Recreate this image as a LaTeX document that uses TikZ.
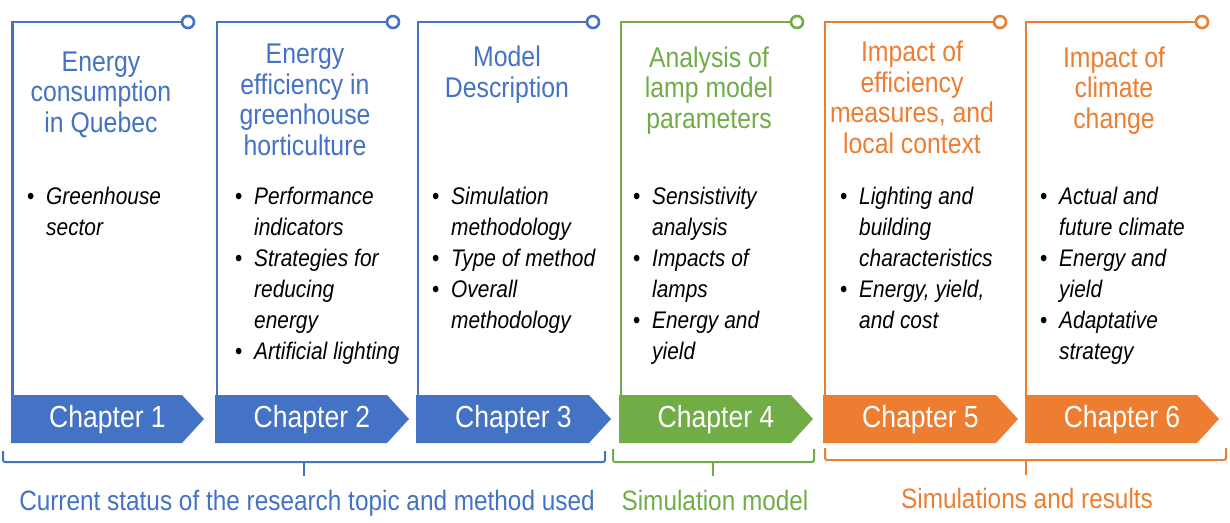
\documentclass[tikz,border=0pt]{standalone}
\usepackage{fontspec}
\setmainfont{Liberation Sans}[FakeStretch=0.87]
\definecolor{cblue}{HTML}{4472C4}
\definecolor{cgreen}{HTML}{70AD47}
\definecolor{corange}{HTML}{ED7D31}
\newcommand\bul[1]{\spaceskip=0.25em plus 0.05em\relax\noindent\hangindent=19pt\hangafter=1\makebox[19pt][l]{\upshape\textbullet}#1\par}
\tikzset{
  panelline/.style={line width=2.6pt},
  chevtext/.style={text=white, font=\fontsize{30.5}{31}\selectfont, inner sep=0pt, anchor=base},
  titletext/.style={font=\fontsize{28.5}{30.5}\selectfont, inner sep=0pt, anchor=base, align=center},
  bullettext/.style={font=\fontsize{24}{31}\selectfont\itshape, inner sep=0pt, anchor=base west, text width=190pt, align=left},
  bracket/.style={line width=2pt, rounded corners=2pt},
  grouptext/.style={font=\fontsize{28}{30}\selectfont, inner sep=0pt, anchor=base}
}
\begin{document}
\begin{tikzpicture}[x=1pt,y=-1pt]
\useasboundingbox[fill=white] (0,0) rectangle (1230,522);
% panels
\foreach \n/\lx/\cx/\col/\cl/\tp in {1/12.5/188/cblue/11/204, 2/217/393/cblue/215/409, 3/418/593/cblue/416/611, 4/621/797/cgreen/619/813, 5/825/1000/corange/823/1018, 6/1026/1202/corange/1025/1219}{
  \draw[panelline,\col] (\lx,395) -- (\lx,22) -- (\cx-6,22);
  \draw[panelline,\col,fill=white] (\cx,22) circle[radius=6];
  \fill[\col] (\cl,395) -- (\tp-22,395) -- (\tp,419) -- (\tp-22,443) -- (\cl,443) -- cycle;
  \node[chevtext] (ch\n) at ({(\cl+\tp)/2},427) {Chapter \n};
}
% titles (anchor = baseline of last line)
\node[titletext,text=cblue] (t1) at (101,132) {Energy\\consumption\\in Quebec};
\node[titletext,text=cblue] (t2) at (305,155) {Energy\\efficiency in\\greenhouse\\horticulture};
\node[titletext,text=cblue] (t3) at (507,97) {Model\\Description};
\node[titletext,text=cgreen] (t4) at (709,128) {Analysis of\\lamp model\\parameters};
\node[titletext,text=corange] (t5) at (912,153) {Impact of\\efficiency\\measures, and\\local context};
\node[titletext,text=corange] (t6) at (1114,128) {Impact of\\climate\\change};
% bullets
\node[bullettext] (b1) at (27,204) {\bul{Greenhouse\newline sector}};
\node[bullettext] (b2) at (235,204) {\bul{Performance\newline indicators}\bul{Strategies for\newline reducing\newline energy}\bul{Artificial lighting}};
\node[bullettext] (b3) at (432,204) {\bul{Simulation\newline methodology}\bul{Type of method}\bul{Overall\newline methodology}};
\node[bullettext] (b4) at (633,204) {\bul{Sensistivity\newline analysis}\bul{Impacts of\newline lamps}\bul{Energy and\newline yield}};
\node[bullettext] (b5) at (840,204) {\bul{Lighting and\newline building\newline characteristics}\bul{Energy, yield,\newline and cost}};
\node[bullettext] (b6) at (1040,204) {\bul{Actual and\newline future climate}\bul{Energy and\newline yield}\bul{Adaptative\newline strategy}};
% brackets
\coordinate (k1a) at (3,451); \coordinate (k1b) at (605,451); \coordinate (k1c) at (304,476);
\coordinate (k2a) at (613,449); \coordinate (k2b) at (814,449); \coordinate (k2c) at (713,476);
\coordinate (k3a) at (825,448); \coordinate (k3b) at (1226,448); \coordinate (k3c) at (1026,475);
\draw[bracket,cblue] (k1a) -- (3,462) -- (605,462) -- (k1b);
\draw[line width=2pt,cblue] (304,462) -- (k1c);
\draw[bracket,cgreen] (k2a) -- (613,462) -- (814,462) -- (k2b);
\draw[line width=2pt,cgreen] (713,462) -- (k2c);
\draw[bracket,corange] (k3a) -- (825,460) -- (1226,460) -- (k3b);
\draw[line width=2pt,corange] (1026,460) -- (k3c);
% group labels
\node[grouptext,text=cblue] (g1) at (307,510) {Current status of the research topic and method used};
\node[grouptext,text=cgreen] (g2) at (715,510) {Simulation model};
\node[grouptext,text=corange] (g3) at (1027,508) {Simulations and results};
\end{tikzpicture}
\end{document}
